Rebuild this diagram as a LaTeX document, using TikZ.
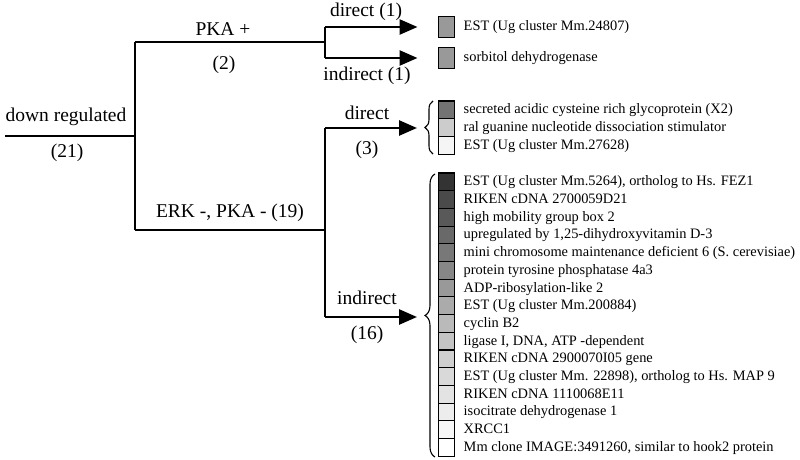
\documentclass[tikz,border=0pt]{standalone}
\usepackage{fontspec}
\setmainfont{Liberation Serif}
\usetikzlibrary{arrows.meta,positioning,decorations.pathreplacing}

\begin{document}
\begin{tikzpicture}[x=1pt, y=-1pt,
			branch/.style={line width=2.6pt},
			lbl/.style={font=\fontsize{19.5}{22}\selectfont, inner sep=0},
			item/.style={font=\fontsize{14.4}{16}\selectfont, inner sep=0, text height=10.5pt, text depth=2.5pt},
			cell/.style={draw, line width=1.1pt, outer sep=0, inner sep=0, minimum width=16pt, minimum height=17.7pt},
			curly/.style={decorate, line width=1.1pt},
			>={Triangle[length=18pt,width=15pt]}]

	\useasboundingbox (0,0) rectangle (800,460);

	% tree
	\coordinate (start) at (5,136);
	\coordinate (split) at (135,136);
	\coordinate (pkaup) at (135,42);
	\coordinate (pkaend) at (325,42);
	\coordinate (erkdn) at (135,230);
	\coordinate (erkend) at (325,230);
	\coordinate (pkatop) at (325,27);
	\coordinate (pkabot) at (325,58);
	\coordinate (erktop) at (325,128);
	\coordinate (erkbot) at (325,317);

	\node[lbl](down) at (66,117) {down regulated};
	\node[lbl](total) at (67,153) {(21)};
	\node[lbl](pka) at (223,29) {PKA +};
	\node[lbl](pkanum) at (224,65) {(2)};
	\node[lbl](erk) at (230,213) {ERK -, PKA - (19)};
	\node[lbl](dirone) at (366,12) {direct (1)};
	\node[lbl](indone) at (367,76) {indirect (1)};
	\node[lbl](dir) at (367,113) {direct};
	\node[lbl](dirnum) at (367,150) {(3)};
	\node[lbl](ind) at (367,298) {indirect};
	\node[lbl](indnum) at (367,335) {(16)};

	% PKA + genes
	\node[cell, fill=black!40, minimum height=21pt](e1) at (446.5,27) {};
	\node[item, right=9pt of e1](te1) {EST (Ug cluster Mm.24807)};
	\node[cell, fill=black!40, minimum height=21pt](e2) at (446.5,58) {};
	\node[item, right=9pt of e2](te2) {sorbitol dehydrogenase};

	% direct genes
	\node[cell, fill=black!55](s1) at (446.5,109.85) {};
	\node[cell, fill=black!20, below=0pt of s1](s2) {};
	\node[cell, fill=black!4, below=0pt of s2](s3) {};
	\node[item, right=9pt of s1](ts1) {secreted acidic cysteine rich glycoprotein (X2)};
	\node[item, right=9pt of s2](ts2) {ral guanine nucleotide dissociation stimulator};
	\node[item, right=9pt of s3](ts3) {EST (Ug cluster Mm.27628)};

	% indirect genes
	\node[cell, fill=black!80](c1) at (446.5,181.85) {};
	\node[cell, fill=black!71, below=0pt of c1](c2) {};
	\node[cell, fill=black!65, below=0pt of c2](c3) {};
	\node[cell, fill=black!59, below=0pt of c3](c4) {};
	\node[cell, fill=black!53, below=0pt of c4](c5) {};
	\node[cell, fill=black!47, below=0pt of c5](c6) {};
	\node[cell, fill=black!40, below=0pt of c6](c7) {};
	\node[cell, fill=black!33, below=0pt of c7](c8) {};
	\node[cell, fill=black!27, below=0pt of c8](c9) {};
	\node[cell, fill=black!23, below=0pt of c9](c10) {};
	\node[cell, fill=black!19, below=0pt of c10](c11) {};
	\node[cell, fill=black!15, below=0pt of c11](c12) {};
	\node[cell, fill=black!11, below=0pt of c12](c13) {};
	\node[cell, fill=black!7, below=0pt of c13](c14) {};
	\node[cell, fill=black!3, below=0pt of c14](c15) {};
	\node[cell, fill=white, below=0pt of c15](c16) {};
	\node[item, right=9pt of c1](t1) {EST (Ug cluster Mm.5264), ortholog to Hs. FEZ1};
	\node[item, right=9pt of c2](t2) {RIKEN cDNA 2700059D21};
	\node[item, right=9pt of c3](t3) {high mobility group box 2};
	\node[item, right=9pt of c4](t4) {upregulated by 1,25-dihydroxyvitamin D-3};
	\node[item, right=9pt of c5](t5) {mini chromosome maintenance deficient 6 (S. cerevisiae)};
	\node[item, right=9pt of c6](t6) {protein tyrosine phosphatase 4a3};
	\node[item, right=9pt of c7](t7) {ADP-ribosylation-like 2};
	\node[item, right=9pt of c8](t8) {EST (Ug cluster Mm.200884)};
	\node[item, right=9pt of c9](t9) {cyclin B2};
	\node[item, right=9pt of c10](t10) {ligase I, DNA, ATP -dependent};
	\node[item, right=9pt of c11](t11) {RIKEN cDNA 2900070I05 gene};
	\node[item, right=9pt of c12](t12) {EST (Ug cluster Mm. 22898), ortholog to Hs. MAP 9};
	\node[item, right=9pt of c13](t13) {RIKEN cDNA 1110068E11};
	\node[item, right=9pt of c14](t14) {isocitrate dehydrogenase 1};
	\node[item, right=9pt of c15](t15) {XRCC1};
	\node[item, right=9pt of c16](t16) {Mm clone IMAGE:3491260, similar to hook2 protein};

	% braces
	\draw[curly, decoration={brace, amplitude=8pt}] (433,154) -- (433,101) coordinate[pos=0.5] (midtwo);
	\draw[curly, decoration={brace, amplitude=10pt}] (435,457) -- (435,174);
	\coordinate (bracetwo) at (425,128);
	\coordinate (bracethree) at (425,317);

	\draw[branch] (start) -- (split);
	\draw[branch] (pkaup) -- (erkdn);
	\draw[branch] (pkaup) -- (pkaend);
	\draw[branch] (erkdn) -- (erkend);
	\draw[branch] (pkatop) -- (pkabot);
	\draw[branch] (erktop) -- (erkbot);
	\draw[branch, ->, shorten >=21pt] (pkatop) -- (pkatop -| e1.west);
	\draw[branch, ->, shorten >=21pt] (pkabot) -- (pkabot -| e2.west);
	\draw[branch, ->, shorten >=8pt] (erktop) -- (bracetwo);
	\draw[branch, ->, shorten >=8pt] (erkbot) -- (bracethree);
\end{tikzpicture}
\end{document}
